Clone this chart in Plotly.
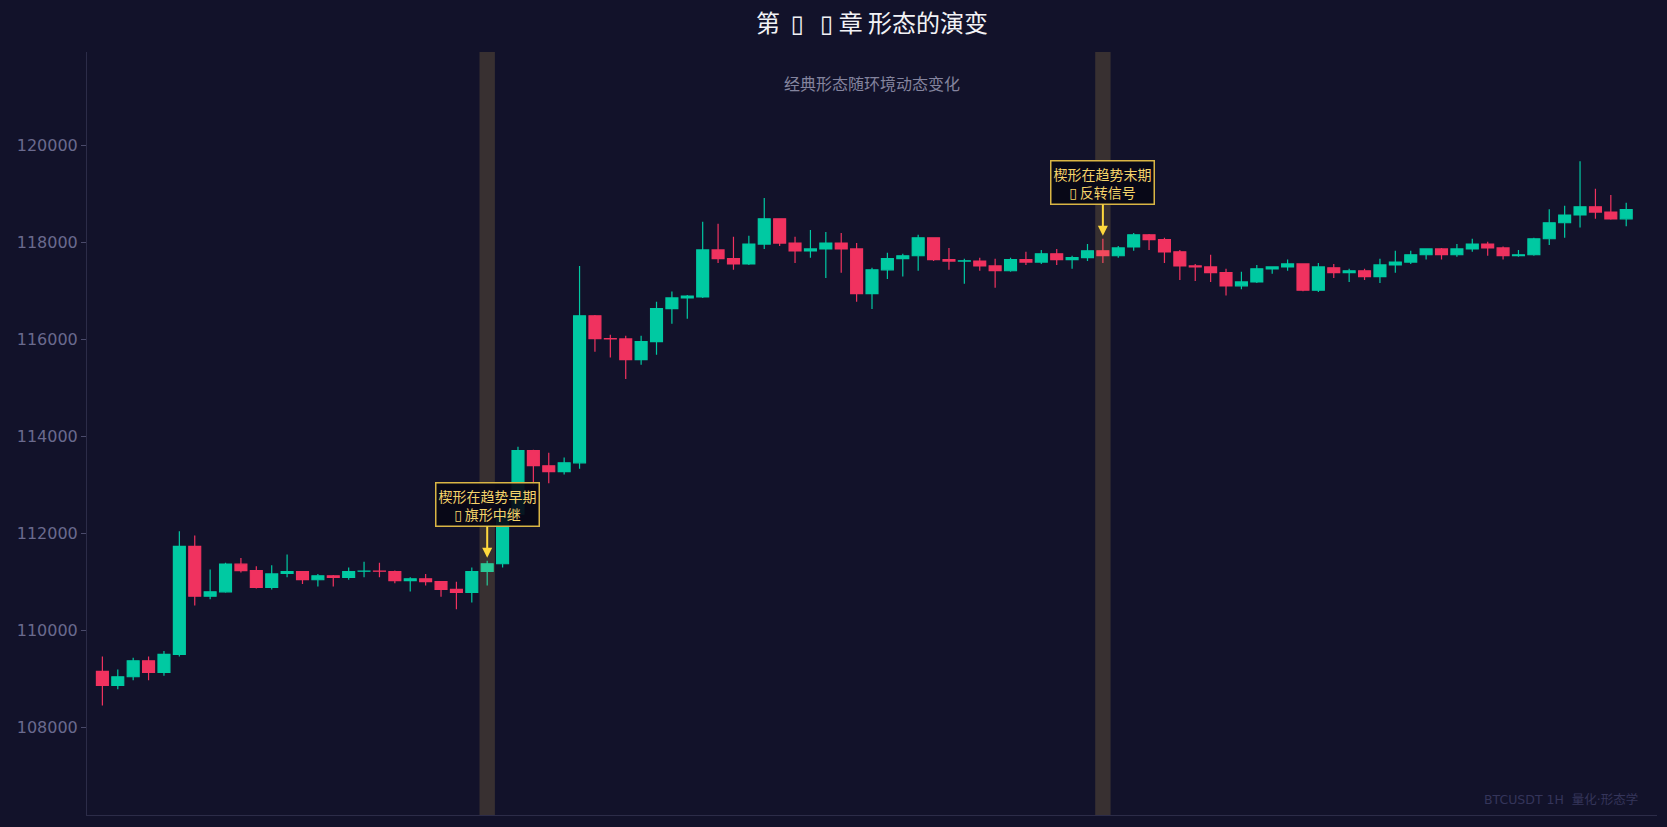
import plotly.graph_objects as go

# ---------------- data ----------------
bar_index = list(range(100))

open_ = [109160, 108870, 109050, 109380, 109140, 109510, 111740, 110710, 110800, 111370,
         111240, 110890, 111180, 111220, 111050, 111130, 111100, 111225, 111230, 111220,
         111030, 111070, 111010, 110850, 110790, 111220, 111380, 112400, 113710, 113400,
         113280, 113460, 116490, 116020, 116015, 115590, 115960, 116640, 116860, 116880,
         117850, 117670, 117560, 117970, 118490, 117990, 117830, 117870, 117990, 117870,
         116950, 117440, 117670, 117730, 118100, 117650, 117620, 117620, 117520, 117420,
         117650, 117600, 117770, 117650, 117690, 117830, 117730, 117910, 118160, 118060,
         117810, 117520, 117500, 117380, 117110, 117190, 117460, 117500, 117560, 117020,
         117480, 117380, 117420, 117300, 117540, 117600, 117750, 117870, 117750, 117870,
         117970, 117890, 117730, 117750, 118080, 118410, 118570, 118740, 118630, 118490]

high = [109470, 109200, 109440, 109470, 109580, 112050, 111960, 111260, 111400, 111500,
        111330, 111350, 111570, 111230, 111170, 111150, 111300, 111420, 111400, 111240,
        111100, 111170, 111020, 111010, 111300, 111440, 112450, 113790, 113730, 113670,
        113570, 117520, 116510, 116100, 116080, 116080, 116780, 116990, 116920, 118430,
        118390, 118120, 118140, 118920, 118500, 118120, 118260, 118220, 118200, 117990,
        117480, 117790, 117770, 118160, 118110, 117890, 117670, 117690, 117670, 117690,
        117810, 117850, 117870, 117730, 117970, 118080, 117930, 118200, 118180, 118100,
        117850, 117560, 117750, 117460, 117400, 117540, 117510, 117650, 117570, 117580,
        117560, 117460, 117460, 117670, 117830, 117830, 117880, 117890, 117970, 118080,
        118020, 117920, 117850, 118100, 118690, 118760, 119680, 119110, 118980, 118820]

low = [108460, 108790, 108980, 108980, 109070, 109470, 110520, 110650, 110780, 111200,
       110870, 110850, 111100, 110960, 110910, 110910, 111050, 111100, 111100, 110980,
       110810, 110930, 110700, 110440, 110580, 110930, 111300, 112300, 112990, 113040,
       113220, 113340, 115750, 115630, 115190, 115480, 115690, 116330, 116430, 116860,
       117580, 117440, 117540, 117870, 117930, 117580, 117690, 117270, 117380, 116780,
       116630, 117250, 117300, 117420, 117620, 117440, 117150, 117420, 117070, 117400,
       117540, 117560, 117540, 117460, 117620, 117580, 117690, 117830, 117850, 117580,
       117230, 117210, 117190, 116910, 117040, 117170, 117360, 117420, 117000, 116980,
       117270, 117190, 117230, 117170, 117380, 117560, 117650, 117650, 117710, 117810,
       117730, 117650, 117710, 117730, 117950, 118100, 118310, 118490, 118470, 118340]

close = [108870, 109050, 109380, 109140, 109510, 111740, 110710, 110800, 111370, 111240,
         110890, 111170, 111220, 111050, 111130, 111100, 111220, 111230, 111225, 111030,
         111070, 111010, 110850, 110790, 111220, 111380, 112400, 113710, 113400, 113280,
         113460, 116490, 116020, 116015, 115590, 115960, 116640, 116860, 116900, 117850,
         117670, 117560, 117970, 118490, 117990, 117830, 117870, 117990, 117870, 116950,
         117440, 117670, 117730, 118100, 117650, 117620, 117625, 117520, 117420, 117650,
         117600, 117770, 117650, 117690, 117830, 117730, 117890, 118160, 118060, 117810,
         117520, 117500, 117380, 117110, 117190, 117460, 117500, 117560, 117020, 117500,
         117380, 117420, 117300, 117540, 117600, 117750, 117870, 117750, 117870, 117970,
         117890, 117730, 117750, 118080, 118410, 118570, 118740, 118630, 118490, 118680]

y_ticks = [108000, 110000, 112000, 114000, 116000, 118000, 120000]

highlight_bars = [25, 65]
# the reference shows a missing-glyph box before the second line
highlight_texts = ["楔形在趋势早期<br>▯\u2009旗形中继",
                   "楔形在趋势末期<br>▯\u2009反转信号"]

title_text = "第\u00a0\u00a0▯\u00a0\u00a0\u00a0▯\u00a0章 形态的演变"
subtitle_text = "经典形态随环境动态变化"
watermark_text = "BTCUSDT 1H  量化·形态学"

# ---------------- style ----------------
BG = "#12122a"
GREEN = "#00c9a2"
RED = "#f0325f"
FONT = "DejaVu Sans, Noto Sans CJK SC, sans-serif"
CJK = "Noto Sans CJK SC, DejaVu Sans, sans-serif"

fig = go.Figure()
fig.add_trace(go.Candlestick(
    x=bar_index, open=open_, high=high, low=low, close=close,
    increasing=dict(line=dict(color=GREEN, width=1.2), fillcolor=GREEN),
    decreasing=dict(line=dict(color=RED, width=1.2), fillcolor=RED),
    whiskerwidth=0, showlegend=False, hoverinfo="skip",
))

shapes = []
annotations = []
for i, txt in zip(highlight_bars, highlight_texts):
    shapes.append(dict(type="rect", xref="x", yref="paper",
                       x0=bar_index[i] - 0.5, x1=bar_index[i] + 0.5, y0=0, y1=1,
                       fillcolor="rgba(255,205,90,0.16)", line=dict(width=0),
                       layer="above"))
    annotations.append(dict(
        x=bar_index[i], y=high[i], xref="x", yref="y", text=txt,
        showarrow=True, arrowhead=2, arrowsize=1, arrowwidth=2,
        arrowcolor="#ffd93d", ax=0, ay=-56, standoff=3,
        font=dict(family=CJK, size=14, color="#f5d36a"),
        bgcolor="rgba(8,8,22,0.92)", bordercolor="#d9b545",
        borderwidth=1.5, borderpad=2, align="center",
    ))

annotations.append(dict(text=subtitle_text, xref="paper", yref="paper",
                        x=0.5, y=0.959, xanchor="center", yanchor="middle",
                        showarrow=False,
                        font=dict(family=CJK, size=16, color="#84849e")))
annotations.append(dict(text=watermark_text, xref="paper", yref="paper",
                        x=0.989, y=0.02, xanchor="right", yanchor="middle",
                        showarrow=False,
                        font=dict(family=FONT, size=12.5, color="#35355a")))

fig.update_layout(
    width=1667, height=827,
    paper_bgcolor=BG, plot_bgcolor=BG,
    margin=dict(l=87, r=10, t=52, b=12),
    boxgap=0.12, boxgroupgap=0.12,
    title=dict(text=title_text, x=0.5, xref="paper", xanchor="center",
               y=1 - 24 / 827, yanchor="middle",
               font=dict(family=CJK, size=24, color="#f2f2f6")),
    shapes=shapes, annotations=annotations,
    font=dict(family=FONT),
)
fig.update_xaxes(range=[-1, 101], showgrid=False, zeroline=False,
                 showticklabels=False, ticks="", showline=True,
                 linecolor="#2c2c48", linewidth=1,
                 rangeslider=dict(visible=False))
fig.update_yaxes(range=[106200, 121930], tickvals=y_ticks, tickformat="d",
                 showgrid=False, zeroline=False, showline=True,
                 linecolor="#2c2c48", linewidth=1,
                 ticks="outside", ticklen=5, tickcolor="#4a4a6a",
                 tickfont=dict(family=FONT, size=16, color="#6a6a8e"))

fig.write_html(
    "out.html",
    config={"displayModeBar": False},
    post_script="document.body.style.margin='0';"
                "document.body.style.overflow='hidden';"
                "document.body.style.background='" + BG + "';",
)
